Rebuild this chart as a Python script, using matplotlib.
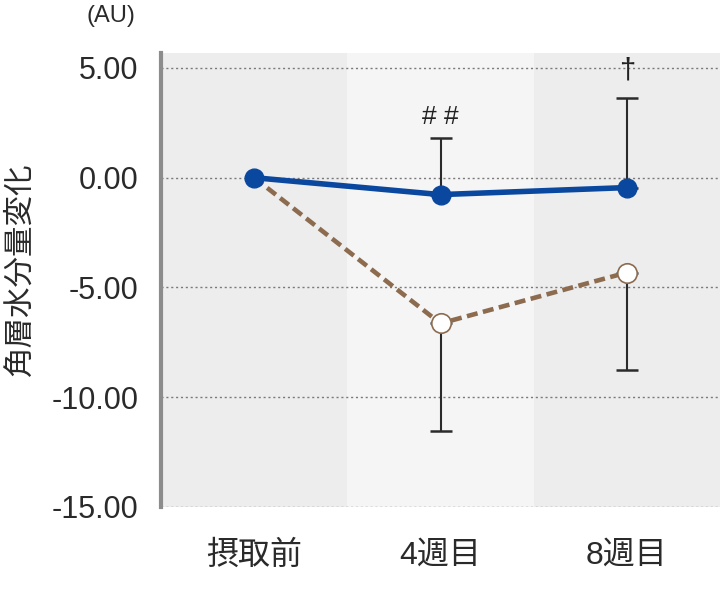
import matplotlib
matplotlib.use('Agg')
import matplotlib.pyplot as plt

plt.rcParams['font.family'] = ['Liberation Sans', 'Noto Sans CJK JP', 'DejaVu Sans']
plt.rcParams['axes.unicode_minus'] = False

# データ
categories = ['摂取前', '4週目', '8週目']
blue_values = [0.0, -0.77, -0.45]
blue_err_upper = [0.0, 2.59, 4.09]
brown_values = [0.0, -6.64, -4.32]
brown_err_lower = [0.0, 4.91, 4.45]
y_ticks = [5, 0, -5, -10, -15]
y_tick_labels = ['5.00', '0.00', '-5.00', '-10.00', '-15.00']
marks = ['', '# #', '†']
mark_y = [0.0, 2.2, 4.25]

blue = '#0a479f'
brown = '#8c6b4f'
err_color = '#2b2b2b'
text_color = '#2a2a2a'

fig = plt.figure(figsize=(7.2, 5.93), dpi=100)
ax = fig.add_axes([161 / 720, 86 / 593, 559 / 720, 454 / 593])

x = list(range(len(categories)))

# 背景の帯
band_colors = ['#ededed', '#f5f5f5', '#ededed']
for i, c in enumerate(band_colors):
    ax.axvspan(i - 0.5, i + 0.5, color=c, lw=0, zorder=0)

# 点線グリッド
for t in y_ticks:
    ax.axhline(t, color='#7a7a7a', lw=1.0, ls=(0, (1.5, 2)), zorder=1)

# エラーバー
ax.errorbar(x[1:], blue_values[1:], yerr=[[0] * 2, blue_err_upper[1:]], fmt='none',
            ecolor=err_color, elinewidth=1.5, capsize=8, capthick=1.8, zorder=2)
ax.errorbar(x[1:], brown_values[1:], yerr=[brown_err_lower[1:], [0] * 2], fmt='none',
            ecolor=err_color, elinewidth=1.5, capsize=8, capthick=1.8, zorder=2)

# 折れ線
ax.plot(x, brown_values, color=brown, lw=3.3, dashes=(2.4, 1.2), zorder=3)
ax.plot(x[1:], brown_values[1:], ls='none', marker='o', ms=14, mfc='white',
        mec=brown, mew=1.2, zorder=4)
ax.plot(x, blue_values, color=blue, lw=4, marker='o', ms=13.5, mfc=blue,
        mec=blue, zorder=5)

# 有意差記号
for i, m in enumerate(marks):
    if m:
        ax.text(x[i], mark_y[i], m, ha='center', va='bottom', fontsize=19 if m != '†' else 21,
                color='#222222', zorder=6)

ax.set_xlim(-0.5, 2.5)
ax.set_ylim(-15, 5.68)
ax.set_yticks(y_ticks)
ax.set_yticklabels(y_tick_labels, fontsize=22, color=text_color)
ax.set_xticks(x)
ax.set_xticklabels(categories, fontsize=23, color=text_color)
ax.tick_params(axis='y', length=0, pad=16)
ax.tick_params(axis='x', length=0, pad=24)

for s in ['top', 'right', 'bottom']:
    ax.spines[s].set_visible(False)
ax.spines['left'].set_color('#8c8c8c')
ax.spines['left'].set_linewidth(3)

fig.text(20 / 720, 1 - 269 / 593, '角層水分量変化', rotation=90, ha='center', va='center',
         fontsize=22, color=text_color, family=['Noto Sans CJK JP'])
fig.text(111 / 720, 1 - 16 / 593, '(AU)', ha='center', va='center', fontsize=17, color=text_color)

fig.savefig('out.png', dpi=100)
